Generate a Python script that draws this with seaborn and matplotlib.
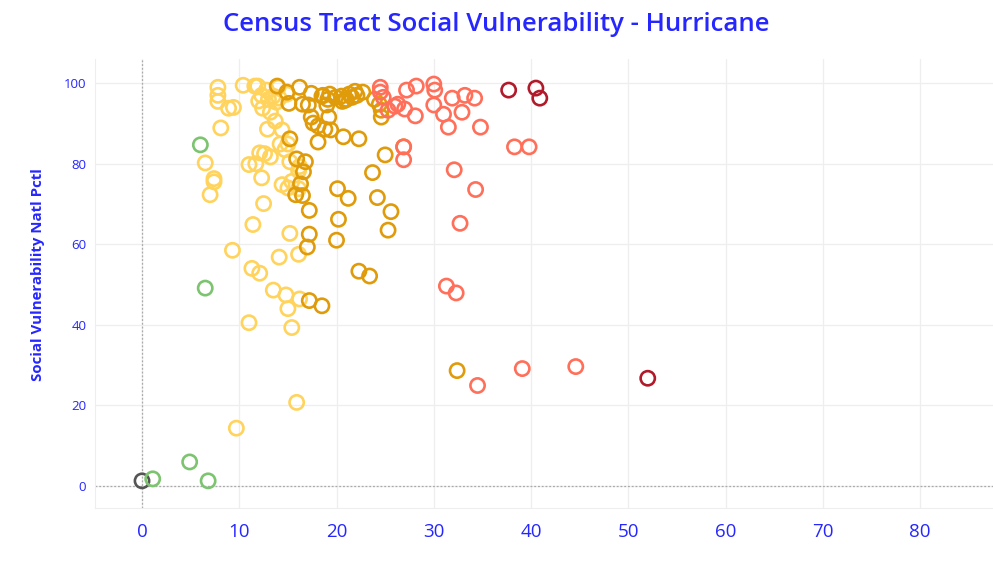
import numpy as np
import pandas as pd
import matplotlib
matplotlib.use('Agg')
import matplotlib.pyplot as plt
import seaborn as sns

# Valores (x, percentil de vulnerabilidad)
gris_x = [0.0]
gris_y = [1.2]

verde_x = [1.1, 4.9, 6.8, 6.5, 6.0]
verde_y = [1.7, 5.9, 1.2, 49.1, 84.7]

amarillo_x = [7.8, 7.8, 7.8, 8.9, 9.4, 8.1, 6.5, 7.4, 7.4, 7.0, 9.3, 9.7, 15.9, 11.0,
              11.3, 12.1, 12.5, 11.4, 11.0, 11.7, 12.1, 12.6, 13.2, 12.3, 12.9, 13.7,
              12.4, 12.0, 10.4, 11.6, 11.9, 12.8, 13.5, 12.3, 14.1, 14.4, 14.2, 14.7,
              15.2, 15.0, 14.4, 15.0, 15.4, 16.1, 16.1, 15.2, 16.1, 14.1, 13.5, 14.8,
              16.2, 15.0, 15.4, 13.2, 13.8, 16.2, 14.9, 13.0, 14.0]
amarillo_y = [99.0, 97.0, 95.5, 93.8, 94.0, 88.9, 80.2, 76.3, 75.5, 72.3, 58.5, 14.3, 20.7, 40.5,
              54.0, 52.8, 70.1, 64.9, 79.8, 80.0, 82.7, 82.5, 81.7, 76.5, 88.6, 90.6,
              93.8, 95.6, 99.5, 99.3, 99.3, 98.3, 96.8, 97.0, 96.3, 88.4, 84.9, 83.5,
              80.5, 84.9, 74.8, 74.0, 75.6, 73.8, 78.3, 62.7, 57.5, 56.8, 48.6, 47.4,
              46.4, 44.0, 39.3, 92.8, 95.3, 79.3, 97.3, 96.0, 99.0]

naranja_x = [13.9, 14.9, 15.1, 16.5, 17.1, 17.4, 17.6, 18.1, 18.8, 19.4, 18.5, 19.0,
             19.1, 19.3, 19.9, 20.5, 20.9, 21.3, 21.6, 21.9, 22.1, 22.7, 23.9, 24.4,
             24.6, 19.2, 20.7, 22.3, 18.1, 15.2, 15.9, 16.8, 15.8, 16.5, 17.2, 20.1,
             21.2, 20.2, 20.0, 17.2, 17.0, 17.2, 18.5, 22.3, 23.4, 23.7, 24.2, 25.0,
             25.6, 25.3, 26.9, 24.6, 32.4, 16.2, 17.4, 18.6, 20.6, 21.0, 16.3, 16.6]
naranja_y = [99.3, 97.8, 95.0, 94.8, 94.6, 91.6, 90.1, 89.4, 88.6, 88.4, 96.8, 94.6,
             96.0, 97.3, 96.5, 96.8, 95.8, 97.3, 96.5, 98.0, 97.0, 97.8, 96.0, 94.8,
             91.6, 91.6, 86.7, 86.2, 85.4, 86.2, 81.2, 80.5, 72.3, 72.1, 68.4, 73.8,
             71.4, 66.2, 61.0, 62.5, 59.3, 46.0, 44.7, 53.3, 52.1, 77.8, 71.6, 82.2,
             68.1, 63.5, 84.2, 93.3, 28.6, 99.0, 97.5, 97.0, 95.5, 96.0, 75.0, 78.0]

salmon_x = [24.5, 24.5, 24.8, 26.0, 25.3, 26.3, 27.0, 26.9, 27.2, 28.2, 28.1, 30.0,
            30.1, 30.0, 31.0, 31.5, 31.9, 33.2, 34.2, 32.9, 34.8, 32.1, 34.3, 32.7,
            31.3, 32.3, 34.5, 39.1, 44.6, 38.3, 39.8, 26.9]
salmon_y = [99.0, 97.8, 96.5, 94.3, 93.3, 94.8, 93.6, 81.0, 98.3, 99.3, 91.9, 99.8,
            98.3, 94.6, 92.3, 89.1, 96.3, 97.0, 96.3, 92.8, 89.1, 78.5, 73.6, 65.2,
            49.6, 47.9, 24.9, 29.1, 29.6, 84.2, 84.2, 84.2]

rojo_x = [37.7, 40.5, 40.9, 52.0]
rojo_y = [98.3, 98.8, 96.3, 26.7]

grupos = ['gris', 'verde', 'amarillo', 'naranja', 'salmon', 'rojo']
colores = ['#555555', '#7cc46f', '#ffd35c', '#e09b0b', '#ff6f59', '#b11a2b']

xs = [gris_x, verde_x, amarillo_x, naranja_x, salmon_x, rojo_x]
ys = [gris_y, verde_y, amarillo_y, naranja_y, salmon_y, rojo_y]
df = pd.concat([pd.DataFrame({'x': a, 'y': b, 'grupo': g}) for a, b, g in zip(xs, ys, grupos)],
               ignore_index=True)

sns.set_style('white')
plt.rcParams['font.family'] = ['Open Sans', 'DejaVu Sans']
azul = '#2626ff'

fig = plt.figure(figsize=(9.93, 5.63), dpi=100)
ax = fig.add_axes([0.096, 0.098, 0.904, 0.797])

ax.axvline(0, color='#aaaaaa', ls=(0, (1.5, 1.5)), lw=0.9, zorder=1)
ax.axhline(0, color='#aaaaaa', ls=(0, (1.5, 1.5)), lw=0.9, zorder=1)

sns.scatterplot(data=df, x='x', y='y', hue='grupo', hue_order=grupos,
                palette=dict(zip(grupos, colores)), s=105, linewidth=0,
                legend=False, ax=ax, zorder=3)

# circulos huecos
coll = ax.collections[0]
fc = coll.get_facecolors()
coll.set_facecolor('none')
coll.set_edgecolor(fc)
coll.set_linewidth(1.9)

ax.set_xlim(-4.8, 87.5)
ax.set_ylim(-5.5, 106)
ax.set_xticks(range(0, 81, 10))
ax.set_yticks(range(0, 101, 20))
ax.grid(True, color='#eeeeee', lw=0.9, zorder=0)
ax.set_axisbelow(True)
for s in ['top', 'right']:
    ax.spines[s].set_visible(False)
for s in ['left', 'bottom']:
    ax.spines[s].set_color('#eeeeee')

ax.tick_params(axis='x', colors=azul, labelsize=13.5, length=4, width=1, pad=7)
ax.tick_params(axis='y', colors=azul, labelsize=9.5, length=3, width=0.8)
ax.tick_params(axis='y', color='#dddddd')
ax.tick_params(axis='x', color=azul)

ax.set_xlabel('')
ax.set_ylabel('Social Vulnerability Natl Pctl', color=azul, fontsize=10.8,
              fontweight='bold', labelpad=12)
ax.yaxis.set_label_coords(-0.056, 0.52)
fig.suptitle('Census Tract Social Vulnerability - Hurricane', color=azul,
             fontsize=18.5, fontweight='semibold', y=0.978)

fig.savefig('out.png', dpi=100)
